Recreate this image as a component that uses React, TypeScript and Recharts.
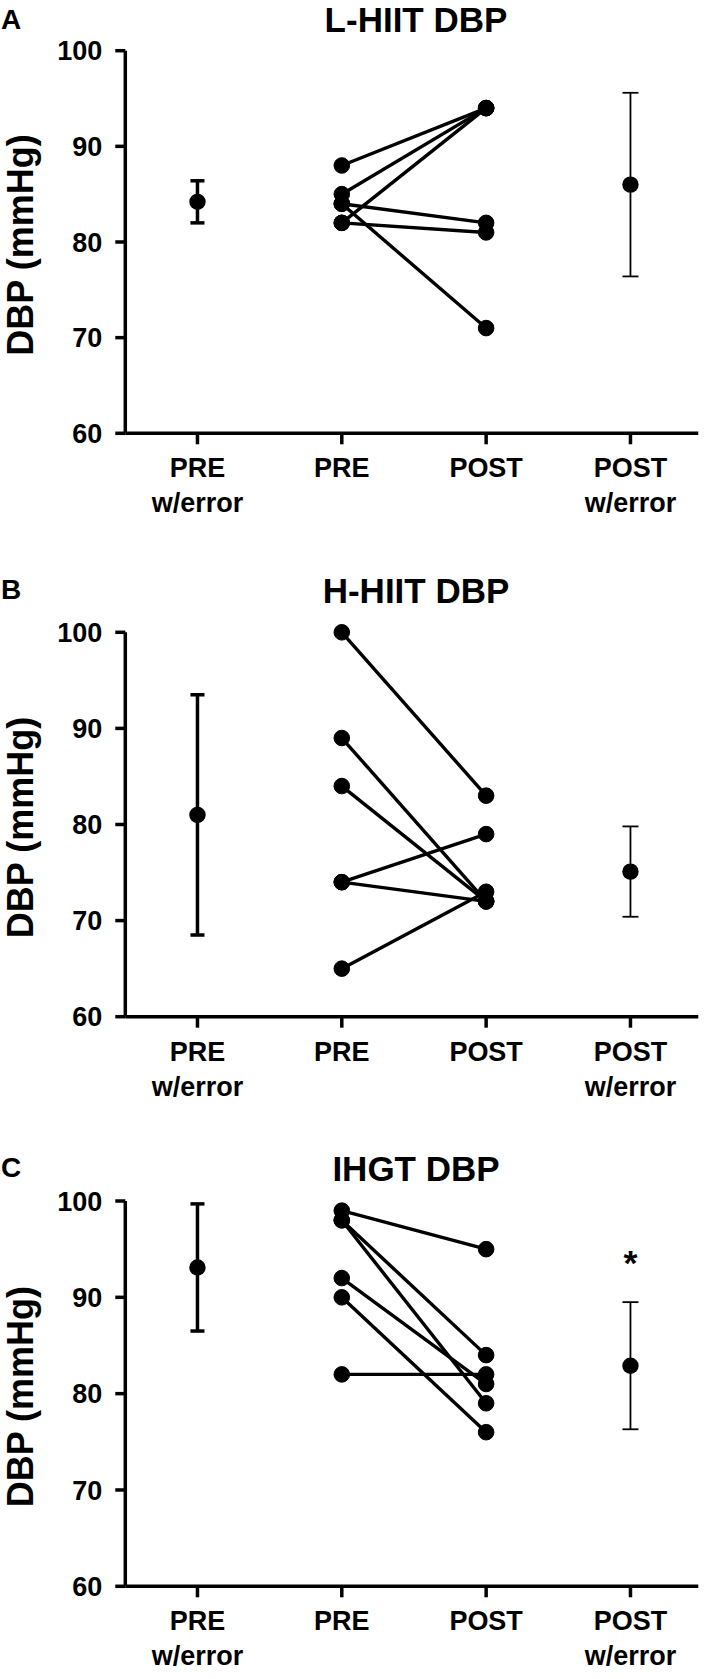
import React from "react";
import { ComposedChart, Line, Scatter, ErrorBar, XAxis, YAxis } from "recharts";

const FONT = "'Liberation Sans', Arial, Helvetica, sans-serif";

const categories = ["PRE\nw/error", "PRE", "POST", "POST\nw/error"];
const yTicks = [60, 70, 80, 90, 100];

// L-HIIT (paired PRE -> POST per subject)
const lhiitPre = [88, 85, 84, 84, 82, 82];
const lhiitPost = [94, 94, 82, 71, 94, 81];
const lhiitMeans = [84.2, 86.0];
const lhiitErrs = [2.2, 9.6];

// H-HIIT
const hhiitPre = [100, 89, 84, 74, 74, 65];
const hhiitPost = [83, 72, 72, 79, 72, 73];
const hhiitMeans = [81.0, 75.1];
const hhiitErrs = [12.5, 4.7];

// IHGT
const ihgtPre = [99, 98, 98, 92, 90, 82];
const ihgtPost = [95, 84, 79, 81, 76, 82];
const ihgtMeans = [93.1, 82.9];
const ihgtErrs = [6.6, 6.6];
const ihgtStar = 94.1;

const PLOT_LEFT = 125.3;
const PLOT_W = 573;
const X_AXIS_H = 90;

const CatTick = (props: any) => {
  const { x, y, payload } = props;
  const lines = categories[payload.value].split("\n");
  return (
    <g>
      {lines.map((l, i) => (
        <text key={i} x={x} y={y + 33 + i * 35} textAnchor="middle" fill="#000"
          fontSize={27} fontWeight="bold" fontFamily={FONT}>{l}</text>
      ))}
    </g>
  );
};

type PanelProps = {
  top: number; marginTop: number; plotH: number;
  letter: string; title: string; titleY: number; letterY: number;
  pre: number[]; post: number[]; means: number[]; errs: number[]; star?: number;
};

function Panel(p: PanelProps) {
  const height = p.marginTop + p.plotH + X_AXIS_H;
  const preMean = [{ x: 0, y: p.means[0], err: p.errs[0] }];
  const postMean = [{ x: 3, y: p.means[1], err: p.errs[1] }];
  const cy = p.marginTop + p.plotH / 2 + 3;

  return (
    <div style={{ position: "absolute", left: 0, top: p.top, width: 709, height }}>
      <ComposedChart width={709} height={height}
        margin={{ top: p.marginTop, right: 709 - PLOT_LEFT - PLOT_W, bottom: 0, left: 0 }}>
        <XAxis type="number" dataKey="x" domain={[-0.5, 3.47]} ticks={[0, 1, 2, 3]} allowDataOverflow
          interval={0} height={X_AXIS_H} tickSize={11} tickMargin={0} tick={<CatTick />}
          axisLine={{ stroke: "#000", strokeWidth: 3.5 }} tickLine={{ stroke: "#000", strokeWidth: 3.5 }} />
        <YAxis type="number" domain={[60, 100]} ticks={yTicks} interval={0} width={PLOT_LEFT}
          tickSize={10} tickMargin={13}
          tick={{ fill: "#000", fontSize: 27, fontWeight: "bold", fontFamily: FONT }}
          axisLine={{ stroke: "#000", strokeWidth: 3.5 }} tickLine={{ stroke: "#000", strokeWidth: 3.5 }} />
        {p.pre.map((v, i) => (
          <Line key={i} data={[{ x: 1, y: v }, { x: 2, y: p.post[i] }]} dataKey="y" type="linear"
            stroke="#000" strokeWidth={3.4} dot={{ r: 7.8, fill: "#000", stroke: "#000", strokeWidth: 1 }}
            activeDot={false} isAnimationActive={false} />
        ))}
        <Scatter data={preMean} dataKey="y" isAnimationActive={false}
          shape={(s: any) => <circle cx={s.cx} cy={s.cy} r={8.2} fill="#000" />}>
          <ErrorBar dataKey="err" direction="y" width={7} strokeWidth={3.5} stroke="#000" />
        </Scatter>
        <Scatter data={postMean} dataKey="y" isAnimationActive={false}
          shape={(s: any) => <circle cx={s.cx} cy={s.cy} r={8.2} fill="#000" />}>
          <ErrorBar dataKey="err" direction="y" width={8} strokeWidth={1.8} stroke="#000" />
        </Scatter>
        {p.star !== undefined && (
          <Scatter data={[{ x: 3, y: p.star }]} dataKey="y" isAnimationActive={false}
            shape={(s: any) => (
              <text x={s.cx} y={s.cy + 17} textAnchor="middle" fontSize={36} fontWeight="bold"
                fontFamily={FONT} fill="#000">*</text>
            )} />
        )}
      </ComposedChart>
      <svg width={709} height={height} style={{ position: "absolute", left: 0, top: 0, pointerEvents: "none" }}>
        <text x={1} y={p.letterY} fontSize={28} fontWeight="bold" fontFamily={FONT} fill="#000">{p.letter}</text>
        <text x={416} y={p.titleY} textAnchor="middle" fontSize={35} fontWeight="bold" fontFamily={FONT} fill="#000">{p.title}</text>
        <text x={33} y={cy} transform={`rotate(-90, 33, ${cy})`} textAnchor="middle" fontSize={36}
          fontWeight="bold" fontFamily={FONT} fill="#000">DBP (mmHg)</text>
      </svg>
    </div>
  );
}

export default function App() {
  return (
    <div style={{ position: "absolute", left: 0, top: 0, width: 709, height: 1679, background: "#fff" }}>
      <Panel top={0} marginTop={50.7} plotH={382.6} letter="A" title="L-HIIT DBP" titleY={32} letterY={29}
        pre={lhiitPre} post={lhiitPost} means={lhiitMeans} errs={lhiitErrs} />
      <Panel top={560} marginTop={72.3} plotH={384.4} letter="B" title="H-HIIT DBP" titleY={43} letterY={39}
        pre={hhiitPre} post={hhiitPost} means={hhiitMeans} errs={hhiitErrs} />
      <Panel top={1120} marginTop={81} plotH={385.3} letter="C" title="IHGT DBP" titleY={61} letterY={57}
        pre={ihgtPre} post={ihgtPost} means={ihgtMeans} errs={ihgtErrs} star={ihgtStar} />
    </div>
  );
}
